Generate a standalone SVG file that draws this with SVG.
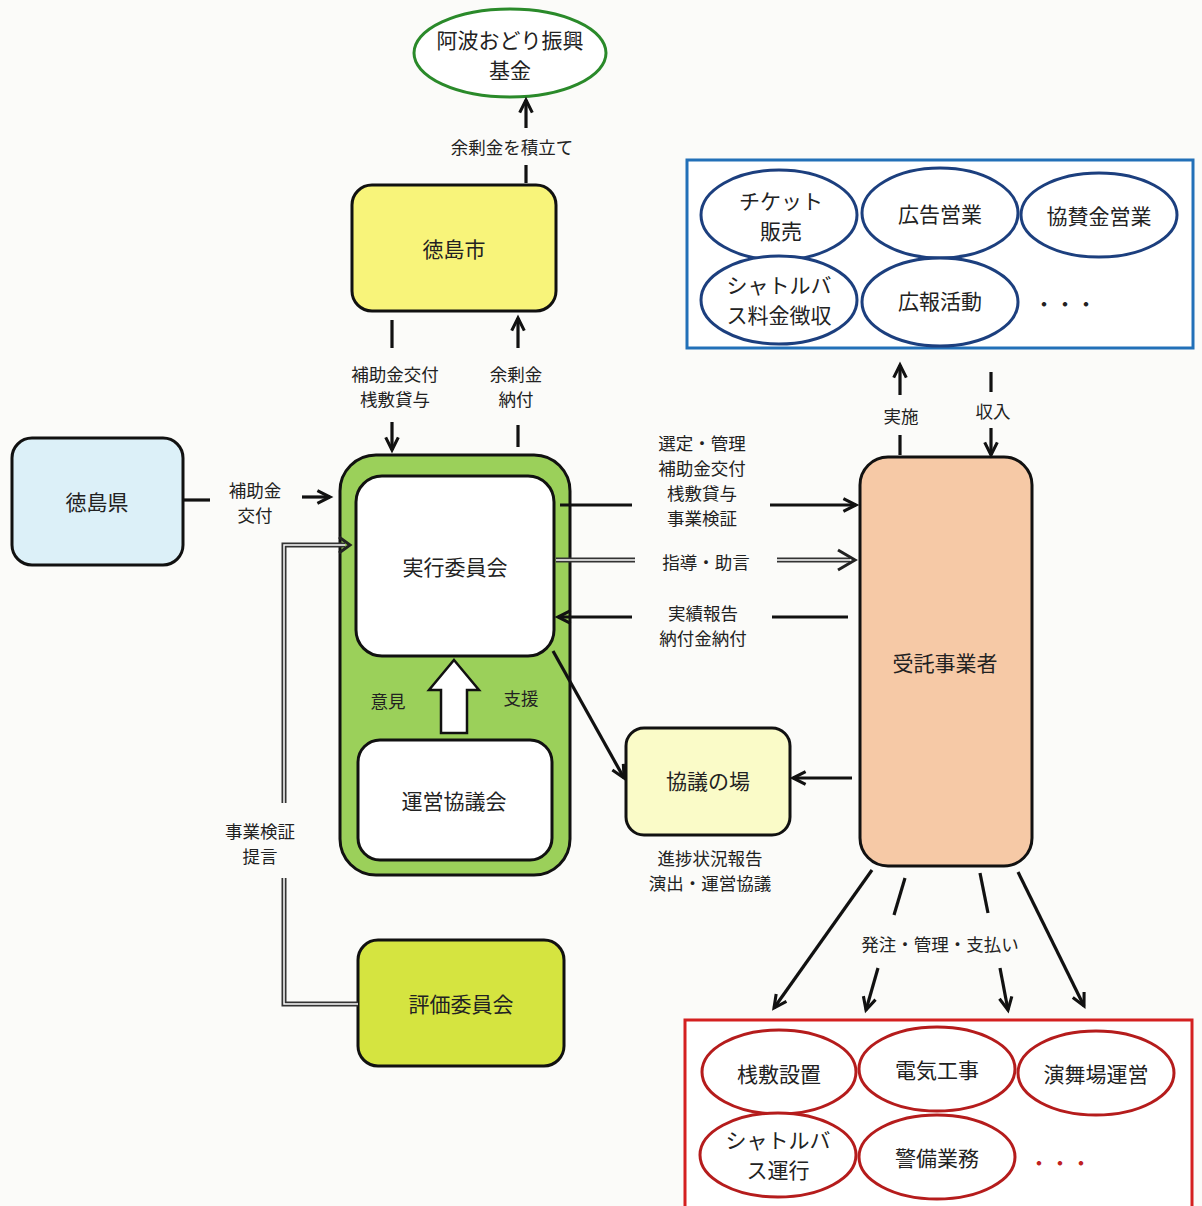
<svg xmlns="http://www.w3.org/2000/svg" width="1202" height="1206" viewBox="0 0 1202 1206">
<style>
text{font-family:"Noto Sans CJK JP","Noto Sans",sans-serif;fill:#222;text-anchor:middle;dominant-baseline:central}
.t{font-size:21px}
.l{font-size:17.5px}
.box{stroke:#111;stroke-width:3}
.ln{stroke:#111;stroke-width:3.2;fill:none}
.dbl{stroke:#333;stroke-width:5;fill:none}
.dblw{stroke:#fff;stroke-width:1.5;fill:none}
.be{fill:#fff;stroke:#1c3f7e;stroke-width:3}
.re{fill:#fff;stroke:#b51c1c;stroke-width:3}
</style>
<defs>
<marker id="ah" viewBox="0 0 10 10" refX="9" refY="5" markerWidth="14" markerHeight="14" orient="auto" markerUnits="userSpaceOnUse" style="overflow:visible">
<path d="M0,0.5 L9,5 L0,9.5" fill="none" stroke="#111" stroke-width="2.2"/>
</marker>
</defs>
<rect width="1202" height="1206" fill="#fbfbf9"/>

<g id="kikin">
<ellipse cx="510" cy="53" rx="96" ry="44" fill="#fff" stroke="#2a8a2a" stroke-width="3"/>
<text class="t" x="510" y="39">阿波おどり振興</text>
<text class="t" x="510" y="69">基金</text>
</g>

<g id="tokushima-shi">
<rect class="box" x="352" y="185" width="204" height="126" rx="20" fill="#f8f47a"/>
<text class="t" x="454" y="248">徳島市</text>
</g>

<g id="tokushima-ken">
<rect class="box" x="12" y="438" width="171" height="127" rx="20" fill="#dcf0f8"/>
<text class="t" x="97" y="501">徳島県</text>
</g>

<g id="jikko">
<rect class="box" x="340" y="455" width="230" height="420" rx="36" fill="#9bd05a"/>
<rect class="box" x="356" y="476" width="198" height="180" rx="26" fill="#fff"/>
<text class="t" x="455" y="566">実行委員会</text>
<path d="M454,660 L479,690 L467,690 L467,733 L441,733 L441,690 L429,690 Z" fill="#fff" stroke="#111" stroke-width="2.5"/>
<text class="l" x="388" y="700" font-size="17">意見</text>
<text class="l" x="521" y="697" font-size="17">支援</text>
</g>

<g id="unei">
<rect class="box" x="358" y="740" width="194" height="120" rx="22" fill="#fff"/>
<text class="t" x="454" y="800">運営協議会</text>
</g>

<g id="hyoka">
<rect class="box" x="358" y="940" width="206" height="126" rx="20" fill="#d5e440"/>
<text class="t" x="461" y="1003">評価委員会</text>
</g>

<g id="kyogi">
<rect class="box" x="626" y="728" width="164" height="107" rx="18" fill="#fafbc8"/>
<text class="t" x="708" y="780">協議の場</text>
</g>

<g id="jutaku">
<rect class="box" x="860" y="457" width="172" height="409" rx="28" fill="#f6c9a6"/>
<text class="t" x="945" y="662">受託事業者</text>
</g>

<g id="revenue">
<rect x="687" y="160" width="506" height="188" fill="#fff" stroke="#2270b8" stroke-width="3"/>
<ellipse class="be" cx="779" cy="215" rx="78" ry="45"/>
<text class="t" x="781" y="200">チケット</text>
<text class="t" x="781" y="230">販売</text>
<ellipse class="be" cx="940" cy="213" rx="78" ry="45"/>
<text class="t" x="940" y="213">広告営業</text>
<ellipse class="be" cx="1099" cy="215" rx="78" ry="42"/>
<text class="t" x="1099" y="215">協賛金営業</text>
<ellipse class="be" cx="779" cy="300" rx="78" ry="44"/>
<text class="t" x="779" y="284">シャトルバ</text>
<text class="t" x="779" y="314">ス料金徴収</text>
<ellipse class="be" cx="940" cy="302" rx="78" ry="44"/>
<text class="t" x="940" y="300">広報活動</text>
<text class="t" x="1065" y="303">・・・</text>
</g>

<g id="orders">
<rect x="685" y="1020" width="507" height="190" fill="#fff" stroke="#d42020" stroke-width="3"/>
<ellipse class="re" cx="779" cy="1072" rx="77" ry="42"/>
<text class="t" x="779" y="1073">桟敷設置</text>
<ellipse class="re" cx="937" cy="1069" rx="78" ry="42"/>
<text class="t" x="937" y="1069">電気工事</text>
<ellipse class="re" cx="1096" cy="1073" rx="78" ry="42"/>
<text class="t" x="1096" y="1073">演舞場運営</text>
<ellipse class="re" cx="778" cy="1155" rx="78" ry="42"/>
<text class="t" x="778" y="1139">シャトルバ</text>
<text class="t" x="778" y="1169">ス運行</text>
<ellipse class="re" cx="937" cy="1157" rx="78" ry="42"/>
<text class="t" x="937" y="1157">警備業務</text>
<text class="t" x="1060" y="1162" style="fill:#c02020">・・・</text>
</g>

<g id="connectors">
<line class="ln" x1="526" y1="183" x2="526" y2="165"/>
<line class="ln" x1="526" y1="128" x2="526" y2="100" marker-end="url(#ah)"/>
<text class="l" x="512" y="146">余剰金を積立て</text>
<line class="ln" x1="392" y1="320" x2="392" y2="348"/>
<line class="ln" x1="392" y1="422" x2="392" y2="450" marker-end="url(#ah)"/>
<text class="l" x="395" y="373">補助金交付</text>
<text class="l" x="395" y="398">桟敷貸与</text>
<line class="ln" x1="518" y1="447" x2="518" y2="425"/>
<line class="ln" x1="518" y1="348" x2="518" y2="318" marker-end="url(#ah)"/>
<text class="l" x="516" y="373">余剰金</text>
<text class="l" x="516" y="398">納付</text>
<line class="ln" x1="183" y1="500" x2="210" y2="500"/>
<line class="ln" x1="302" y1="497" x2="330" y2="497" marker-end="url(#ah)"/>
<text class="l" x="255" y="489">補助金</text>
<text class="l" x="255" y="514">交付</text>
<path class="dbl" d="M358,1004 L284,1004 L284,878"/>
<path class="dblw" d="M358,1004 L284,1004 L284,878"/>
<path class="dbl" d="M284,803 L284,545 L345,545"/>
<path class="dblw" d="M284,803 L284,545 L345,545"/>
<path d="M339,537 L350,545 L339,553" fill="none" stroke="#222" stroke-width="3"/>
<text class="l" x="260" y="830">事業検証</text>
<text class="l" x="260" y="855">提言</text>
<line class="ln" x1="560" y1="505" x2="632" y2="505"/>
<line class="ln" x1="770" y1="505" x2="856" y2="505" marker-end="url(#ah)"/>
<text class="l" x="702" y="442">選定・管理</text>
<text class="l" x="702" y="467">補助金交付</text>
<text class="l" x="702" y="492">桟敷貸与</text>
<text class="l" x="702" y="517">事業検証</text>
<path class="dbl" d="M556,560 L635,560"/>
<path class="dblw" d="M556,560 L635,560"/>
<path class="dbl" d="M777,560 L850,560"/>
<path class="dblw" d="M777,560 L852,560"/>
<path d="M838,550 L855,560 L838,570" fill="none" stroke="#222" stroke-width="3"/>
<text class="l" x="706" y="561">指導・助言</text>
<line class="ln" x1="772" y1="617" x2="848" y2="617"/>
<line class="ln" x1="632" y1="617" x2="558" y2="617" marker-end="url(#ah)"/>
<text class="l" x="703" y="612">実績報告</text>
<text class="l" x="703" y="637">納付金納付</text>
<line class="ln" x1="553" y1="651" x2="624" y2="778" marker-end="url(#ah)"/>
<line class="ln" x1="852" y1="778" x2="793" y2="778" marker-end="url(#ah)"/>
<text class="l" x="710" y="857">進捗状況報告</text>
<text class="l" x="710" y="882">演出・運営協議</text>
<line class="ln" x1="900" y1="455" x2="900" y2="435"/>
<line class="ln" x1="900" y1="395" x2="900" y2="365" marker-end="url(#ah)"/>
<text class="l" x="901" y="415">実施</text>
<line class="ln" x1="991" y1="372" x2="991" y2="392"/>
<line class="ln" x1="991" y1="428" x2="991" y2="455" marker-end="url(#ah)"/>
<text class="l" x="993" y="410">収入</text>
<line class="ln" x1="872" y1="870" x2="774" y2="1008" marker-end="url(#ah)"/>
<line class="ln" x1="905" y1="878" x2="894" y2="915"/>
<line class="ln" x1="878" y1="968" x2="866" y2="1010" marker-end="url(#ah)"/>
<line class="ln" x1="980" y1="873" x2="988" y2="913"/>
<line class="ln" x1="1000" y1="968" x2="1008" y2="1010" marker-end="url(#ah)"/>
<line class="ln" x1="1018" y1="872" x2="1084" y2="1006" marker-end="url(#ah)"/>
<text class="l" x="940" y="943">発注・管理・支払い</text>
</g>
</svg>
